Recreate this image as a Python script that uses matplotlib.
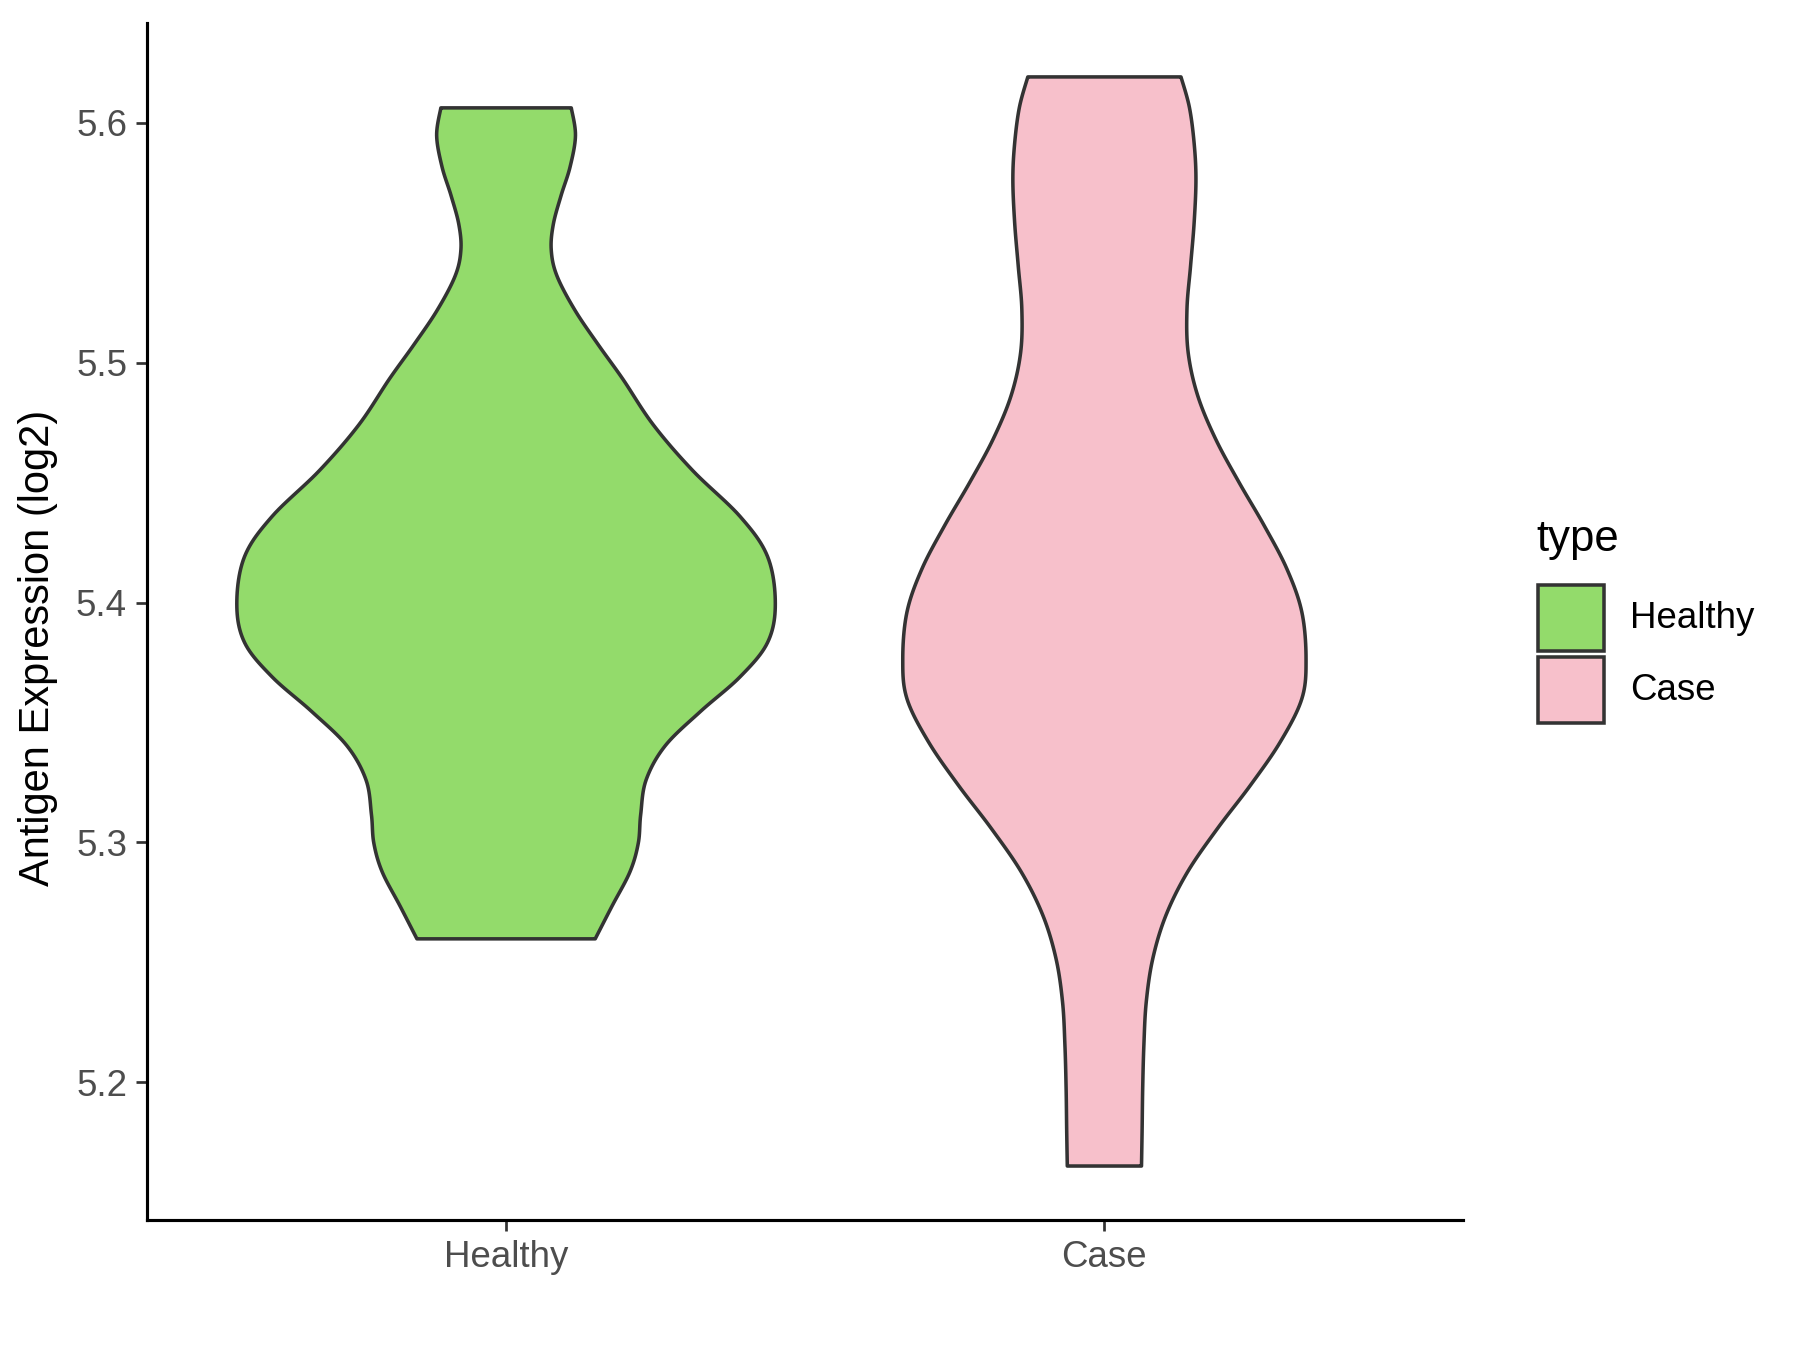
import numpy as np
import matplotlib.pyplot as plt
from matplotlib.patches import Rectangle

plt.rcParams['font.family'] = ['Liberation Sans', 'DejaVu Sans']

# groups and colours
groups = ['Healthy', 'Case']
fills = ['#93DB6B', '#F7C0CB']

# violin outlines: expression level -> half width (in group units)
healthy_y = [5.6062, 5.5947, 5.5816, 5.5697, 5.5577, 5.5470, 5.5362, 5.5219, 5.5075,
             5.4932, 5.4741, 5.4550, 5.4359, 5.4192, 5.3995, 5.3833, 5.3690, 5.3546,
             5.3403, 5.3260, 5.3116, 5.2997, 5.2877, 5.2734, 5.2598]
healthy_w = [0.109, 0.116, 0.107, 0.092, 0.079, 0.0755, 0.085, 0.115, 0.154,
             0.195, 0.246, 0.312, 0.391, 0.437, 0.450, 0.437, 0.391, 0.325,
             0.266, 0.234, 0.225, 0.221, 0.207, 0.177, 0.149]

case_y = [5.6191, 5.6065, 5.5914, 5.5764, 5.5584, 5.5403, 5.5223, 5.5042, 5.4862,
          5.4681, 5.4501, 5.4321, 5.4140, 5.3960, 5.3764, 5.3599, 5.3419, 5.3238,
          5.3058, 5.2877, 5.2697, 5.2517, 5.2336, 5.2156, 5.1975, 5.1795, 5.1651]
case_w = [0.128, 0.142, 0.150, 0.153, 0.150, 0.144, 0.138, 0.140, 0.156,
          0.186, 0.225, 0.267, 0.305, 0.330, 0.337, 0.330, 0.294, 0.244,
          0.189, 0.139, 0.103, 0.081, 0.070, 0.066, 0.064, 0.063, 0.062]

y_ticks = [5.2, 5.3, 5.4, 5.5, 5.6]


def smooth(y, w, n=12):
    # Catmull-Rom through the read points so the outline is not jagged
    y = np.asarray(y, float)
    w = np.asarray(w, float)
    P = np.column_stack([y, w])
    P = np.vstack([P[0], P, P[-1]])
    out = []
    for i in range(1, len(P) - 2):
        p0, p1, p2, p3 = P[i - 1], P[i], P[i + 1], P[i + 2]
        for t in np.linspace(0, 1, n, endpoint=False):
            t2, t3 = t * t, t * t * t
            pt = 0.5 * ((2 * p1) + (-p0 + p2) * t + (2 * p0 - 5 * p1 + 4 * p2 - p3) * t2
                        + (-p0 + 3 * p1 - 3 * p2 + p3) * t3)
            out.append(pt)
    out.append(P[-2])
    out = np.array(out)
    return out[:, 0], out[:, 1]


fig = plt.figure(figsize=(6, 4.5), dpi=300)
ax = fig.add_axes([0.0817, 0.0963, 0.7313, 0.8867])

profiles = [(healthy_y, healthy_w), (case_y, case_w)]
for i, (yy, ww) in enumerate(profiles):
    pos = i + 1
    ys, ws = smooth(yy, ww)
    xs = np.concatenate([pos - ws, (pos + ws)[::-1]])
    yv = np.concatenate([ys, ys[::-1]])
    ax.fill(xs, yv, facecolor=fills[i], edgecolor='#333333', linewidth=0.85,
            joinstyle='round', zorder=2)

ax.set_xlim(0.4, 2.6)
ax.set_ylim(5.1426, 5.6416)
ax.set_xticks([1, 2])
ax.set_xticklabels(groups)
ax.set_yticks(y_ticks)
ax.set_yticklabels([f'{v:.1f}' for v in y_ticks])

for s in ['top', 'right']:
    ax.spines[s].set_visible(False)
for s in ['left', 'bottom']:
    ax.spines[s].set_linewidth(0.75)
    ax.spines[s].set_color('black')
ax.tick_params(axis='both', length=2.6, width=0.65, color='#333333',
               labelsize=8.8, labelcolor='#4D4D4D', pad=2.2)
ax.set_ylabel('Antigen Expression (log2)', fontsize=10, color='black')
ax.yaxis.set_label_coords(-0.068, 0.478)

# legend drawn in figure pixels
W, H = 1800, 1350
fig.text(1536 / W, 1 - 540 / H, 'type', fontsize=10.5, color='black',
         ha='left', va='center')
for i, g in enumerate(groups):
    top = 585 + i * 72
    fig.add_artist(Rectangle((1538 / W, 1 - (top + 66) / H), 66 / W, 66 / H,
                             transform=fig.transFigure, facecolor=fills[i],
                             edgecolor='#333333', linewidth=0.85))
    fig.text(1630 / W, 1 - (top + 33) / H, g, fontsize=8.8, color='black',
             ha='left', va='center')

fig.savefig('out.png', dpi=300)
